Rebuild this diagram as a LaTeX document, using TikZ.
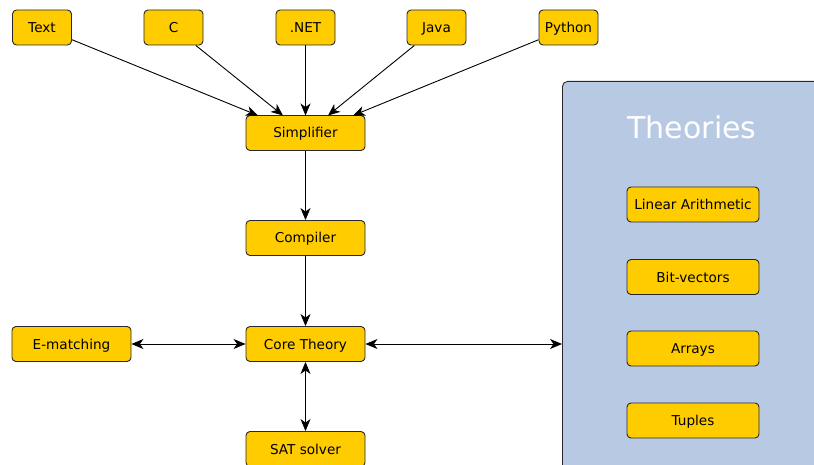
\documentclass[tikz,border=0pt]{standalone}
\usepackage{fontspec}
\setmainfont{DejaVu Sans}
\usetikzlibrary{arrows.meta}
\definecolor{boxfill}{RGB}{255,204,0}
\definecolor{boxline}{RGB}{40,40,40}
\definecolor{panelfill}{RGB}{184,201,227}
\begin{document}
\begin{tikzpicture}[x=1pt,y=-1pt,
  comp/.style={draw=boxline, fill=boxfill, line width=0.9pt, rounded corners=4pt,
    minimum height=35pt, inner sep=0pt, text height=10pt, text depth=0pt,
    font=\fontsize{13.6}{16}\selectfont},
  smallcomp/.style={comp, minimum width=59pt},
  widecomp/.style={comp, minimum width=119pt},
  theorycomp/.style={comp, minimum width=132pt},
  link/.style={line width=0.9pt, -{Stealth[length=12pt,width=10pt,inset=3.5pt]}},
  duplex/.style={line width=0.9pt, {Stealth[length=12pt,width=10pt,inset=3.5pt]}-{Stealth[length=12pt,width=10pt,inset=3.5pt]}}]
\useasboundingbox (0,0) rectangle (814,465);
\clip (0,0) rectangle (814,465);

% theory panel
\node[draw=boxline, fill=panelfill, line width=0.9pt, rounded corners=5pt,
  minimum width=280pt, minimum height=420pt, anchor=north west, inner sep=0pt] (panel) at (562,81) {};
\node[text=white, font=\fontsize{30}{34}\selectfont] (ttl) at (692,127) {Theories};
\node[theorycomp] (la) at (693,204.5) {Linear Arithmetic};
\node[theorycomp] (bv) at (693,277) {Bit-vectors};
\node[theorycomp] (ar) at (693,348.5) {Arrays};
\node[theorycomp] (tu) at (693,420.5) {Tuples};

% front ends
\node[smallcomp] (text) at (42,27.5) {Text};
\node[smallcomp] (c) at (173.5,27.5) {C};
\node[smallcomp] (net) at (305.5,27.5) {.NET};
\node[smallcomp] (java) at (436.5,27.5) {Java};
\node[smallcomp] (py) at (568.5,27.5) {Python};

% pipeline
\node[widecomp] (simp) at (305.5,133) {Simplifier};
\node[widecomp] (comp) at (305.5,238) {Compiler};
\node[widecomp] (core) at (305.5,344) {Core Theory};
\node[widecomp] (em) at (71.5,344) {E-matching};
\node[widecomp] (sat) at (305.5,449) {SAT solver};

% arrival points on the simplifier
\coordinate (s1) at (258,115.5);
\coordinate (s2) at (283,115.5);
\coordinate (s3) at (305.5,115.5);
\coordinate (s4) at (328,115.5);
\coordinate (s5) at (353,115.5);
\coordinate (pin) at (562,344);

\draw[link] (text) -- (s1);
\draw[link] (c) -- (s2);
\draw[link] (net) -- (s3);
\draw[link] (java) -- (s4);
\draw[link] (py) -- (s5);
\draw[link] (simp) -- (comp);
\draw[link] (comp) -- (core);
\draw[duplex] (em) -- (core);
\draw[duplex] (core) -- (sat);
\draw[duplex] (core) -- (pin);
\end{tikzpicture}
\end{document}
